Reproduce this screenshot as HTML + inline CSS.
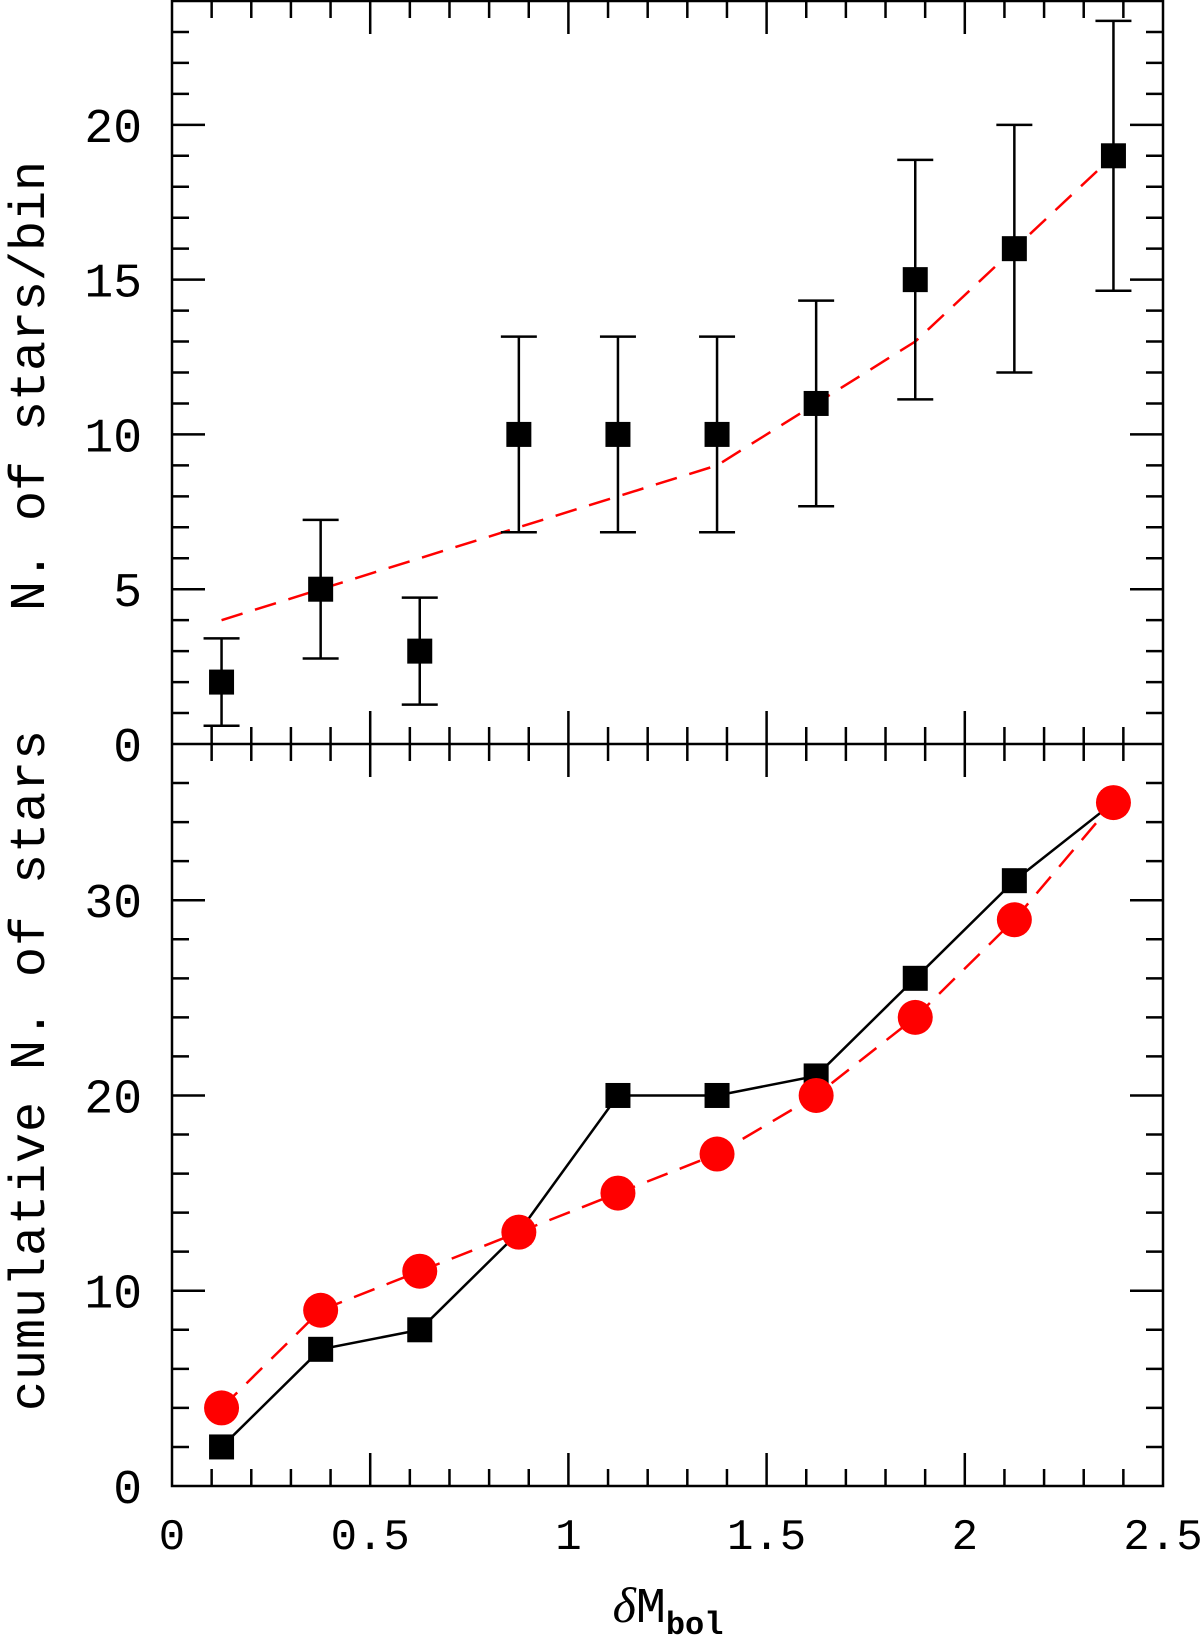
<!DOCTYPE html>
<html><head><meta charset="utf-8"><style>
html,body{margin:0;padding:0;background:#fff;}
svg{display:block;}
text{font-family:"Liberation Mono",monospace;fill:#000;}
</style></head><body>
<svg id="chart" width="1200" height="1644" viewBox="0 0 1200 1644" xmlns="http://www.w3.org/2000/svg"></svg>
<script>
const binCenters=[0.125,0.375,0.625,0.875,1.125,1.375,1.625,1.875,2.125,2.375];
const countsPerBin=[2,5,3,10,10,10,11,15,16,19];
const countErrors=[1.41,2.24,1.73,3.16,3.16,3.16,3.32,3.87,4,4.36];
const modelPerBin=[4,5,6,7,8,9,11,13,16,19];
const cumulativeObserved=[2,7,8,13,20,20,21,26,31,35];
const cumulativeModel=[4,9,11,13,15,17,20,24,29,35];
const xTickLabels=["0","0.5","1","1.5","2","2.5"];
const topYTickLabels=["0","5","10","15","20"];
const botYTickLabels=["0","10","20","30"];

const L=172,R=1163,T=1,M=744,B=1486;
const xMax=2.5, topMax=24, botMax=38;
const sx=v=>L+(R-L)*v/xMax;
const syT=v=>M-(M-T)*v/topMax;
const syB=v=>B-(B-M)*v/botMax;
const svg=document.getElementById('chart');
const NS='http://www.w3.org/2000/svg';
function mk(tag,attrs,parent){const e=document.createElementNS(NS,tag);for(const k in attrs)e.setAttribute(k,attrs[k]);(parent||svg).appendChild(e);return e;}
function line(x1,y1,x2,y2,g,extra){return mk('line',Object.assign({x1,y1,x2,y2,stroke:'#000','stroke-width':2.5},extra||{}),g);}

const fr=mk('rect',{x:L,y:T,width:R-L,height:B-T,fill:'none',stroke:'#000','stroke-width':2.5});

const mid=line(L,M,R,M);


const xt=mk('g',{});

for(let i=1;i<25;i++){const v=i/10,x=sx(v),maj=(i%5===0),len=maj?33:17;
  line(x,T,x,T+len,xt);line(x,B,x,B-len,xt);line(x,M-len,x,M+len,xt);}
const xl=mk('g',{'font-size':44,'text-anchor':'middle'});

xTickLabels.forEach((t,i)=>{const e=mk('text',{x:sx(i*0.5),y:1549},xl);e.textContent=t;});

const yt=mk('g',{});

for(let v=1;v<topMax;v++){const y=syT(v),len=(v%5===0)?33:17;line(L,y,L+len,y,yt);line(R,y,R-len,y,yt);}
const ytl=mk('g',{'font-size':48,'text-anchor':'end'});

topYTickLabels.forEach((t,i)=>{const e=mk('text',{x:142,y:syT(i*5)+17},ytl);e.textContent=t;});
const yb=mk('g',{});

for(let v=2;v<botMax;v+=2){const y=syB(v),len=(v%10===0)?33:17;line(L,y,L+len,y,yb);line(R,y,R-len,y,yb);}
const ybl=mk('g',{'font-size':48,'text-anchor':'end'});

botYTickLabels.forEach((t,i)=>{const e=mk('text',{x:142,y:syB(i*10)+17},ybl);e.textContent=t;});

const t1=mk('text',{x:0,y:0,'font-size':50,'text-anchor':'middle',transform:`translate(44,386) rotate(-90)`});
t1.textContent='N. of stars/bin';

const t2=mk('text',{x:0,y:0,'font-size':50,'letter-spacing':1,'text-anchor':'middle',transform:`translate(44,1070) rotate(-90)`});
t2.textContent='cumulative N. of stars';

const xtitle=mk('text',{x:668,y:1622,'font-size':50,'text-anchor':'middle'});
xtitle.innerHTML='<tspan font-style="italic" font-family="Liberation Serif">δ</tspan>M<tspan font-size="32" dy="12" font-weight="bold">bol</tspan>';


const mp=mk('polyline',{points:binCenters.map((x,i)=>sx(x)+','+syT(modelPerBin[i])).join(' '),fill:'none',stroke:'#f00','stroke-width':2.5,'stroke-dasharray':'22,13'});

binCenters.forEach((xv,i)=>{
  const g=mk('g',{});
  
  const x=sx(xv),y0=syT(countsPerBin[i]-countErrors[i]),y1=syT(countsPerBin[i]+countErrors[i]);
  line(x,y0,x,y1,g);line(x-18,y0,x+18,y0,g);line(x-18,y1,x+18,y1,g);
  mk('rect',{x:x-12.5,y:syT(countsPerBin[i])-12.5,width:25,height:25,fill:'#000'},g);
});

const op=mk('polyline',{points:binCenters.map((x,i)=>sx(x)+','+syB(cumulativeObserved[i])).join(' '),fill:'none',stroke:'#000','stroke-width':2.5});

const cp=mk('polyline',{points:binCenters.map((x,i)=>sx(x)+','+syB(cumulativeModel[i])).join(' '),fill:'none',stroke:'#f00','stroke-width':2.5,'stroke-dasharray':'22,13'});

binCenters.forEach((xv,i)=>{
  const r=mk('rect',{x:sx(xv)-12.5,y:syB(cumulativeObserved[i])-12.5,width:25,height:25,fill:'#000'});
  
});
binCenters.forEach((xv,i)=>{
  const c=mk('circle',{cx:sx(xv),cy:syB(cumulativeModel[i]),r:17.5,fill:'#f00'});
  
});
</script>
</body></html>
